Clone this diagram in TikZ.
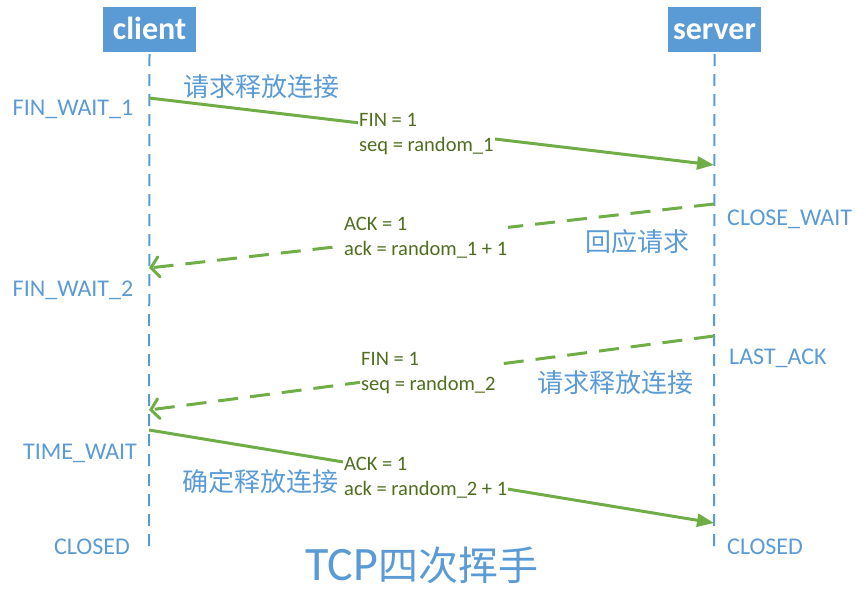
\documentclass[tikz,border=0pt]{standalone}
\usepackage{fontspec}
\setmainfont{Carlito}
\newfontfamily\cjk{Noto Sans CJK SC}
\usetikzlibrary{arrows.meta}
\definecolor{mblue}{HTML}{5B9BD5}
\definecolor{mgreen}{HTML}{70AD47}
\definecolor{tgreen}{HTML}{4F6F1F}
\begin{document}
\begin{tikzpicture}[x=1pt,y=-1pt,
  header/.style={fill=mblue,text=white,font=\fontsize{32}{34}\selectfont\bfseries,minimum width=93pt,minimum height=45pt,inner sep=0,text height=24pt,text depth=3pt},
  lifeline/.style={draw=mblue,line width=2pt,dash pattern=on 12pt off 8pt},
  msg/.style={draw=mgreen,line width=3pt,-{Triangle[length=17pt,width=13pt]}},
  msgdash/.style={draw=mgreen,line width=3pt,dash pattern=on 20pt off 12pt,-{Straight Barb[length=8pt,width=20pt,line cap=round]}},
  state/.style={text=mblue,font=\fontsize{24}{28}\selectfont,inner sep=0},
  info/.style={text=tgreen,fill=white,font=\fontsize{20.5}{25}\selectfont,align=left,anchor=north west,inner sep=1pt},
  hand/.style={text=mblue,font=\cjk\fontsize{26}{28}\selectfont,inner sep=0}]
\useasboundingbox (0,0) rectangle (866,609);

% headers
\node[header] (client) at (149.5,29.5) {client};
\node[header] (server) at (714.5,29.5) {server};

% lifelines
\coordinate (cbot) at (149,548);
\coordinate (sbot) at (714,548);
\draw[lifeline] (client.south) ++(0,2) -- (cbot);
\draw[lifeline] (server.south) ++(0,2) -- (sbot);

% message end points
\coordinate (c1) at (149,98);
\coordinate (s1) at (714,165);
\coordinate (s2) at (714,204);
\coordinate (c2) at (149,268);
\coordinate (s3) at (714,336);
\coordinate (c3) at (149,410);
\coordinate (c4) at (149,430);
\coordinate (s4) at (714,523);

\draw[msg] (c1) -- (s1);
\draw[msgdash] (s2) -- (c2);
\draw[msgdash] (s3) -- (c3);
\draw[msg] (c4) -- (s4);

% message labels
\node[info] (i1) at (358,112) {FIN = 1\\seq = random\_1};
\node[info] (i2) at (343,216) {ACK = 1\\ack = random\_1 + 1};
\node[info] (i3) at (360,351) {FIN = 1\\seq = random\_2};
\node[info] (i4) at (343,456) {ACK = 1\\ack = random\_2 + 1};

% states
\node[state] (fw1) at (73,109) {FIN\_WAIT\_1};
\node[state] (fw2) at (73,290) {FIN\_WAIT\_2};
\node[state] (tw) at (80,453) {TIME\_WAIT};
\node[state] (cl1) at (92,547) {CLOSED};
\node[state,anchor=west] (cw) at (727,219) {CLOSE\_WAIT};
\node[state,anchor=west] (la) at (729,358) {LAST\_ACK};
\node[state,anchor=west] (cl2) at (727,547) {CLOSED};

% handwritten notes
\node[hand] (h1) at (261,87) {请求释放连接};
\node[hand] (h2) at (637,242) {回应请求};
\node[hand] (h3) at (615,383) {请求释放连接};
\node[hand] (h4) at (260,482) {确定释放连接};

% title
\node[text=mblue,inner sep=0,anchor=base west] (title) at (305,580)
  {\fontsize{48}{50}\selectfont TCP\cjk\fontsize{40}{44}\selectfont 四次挥手};
\end{tikzpicture}
\end{document}
